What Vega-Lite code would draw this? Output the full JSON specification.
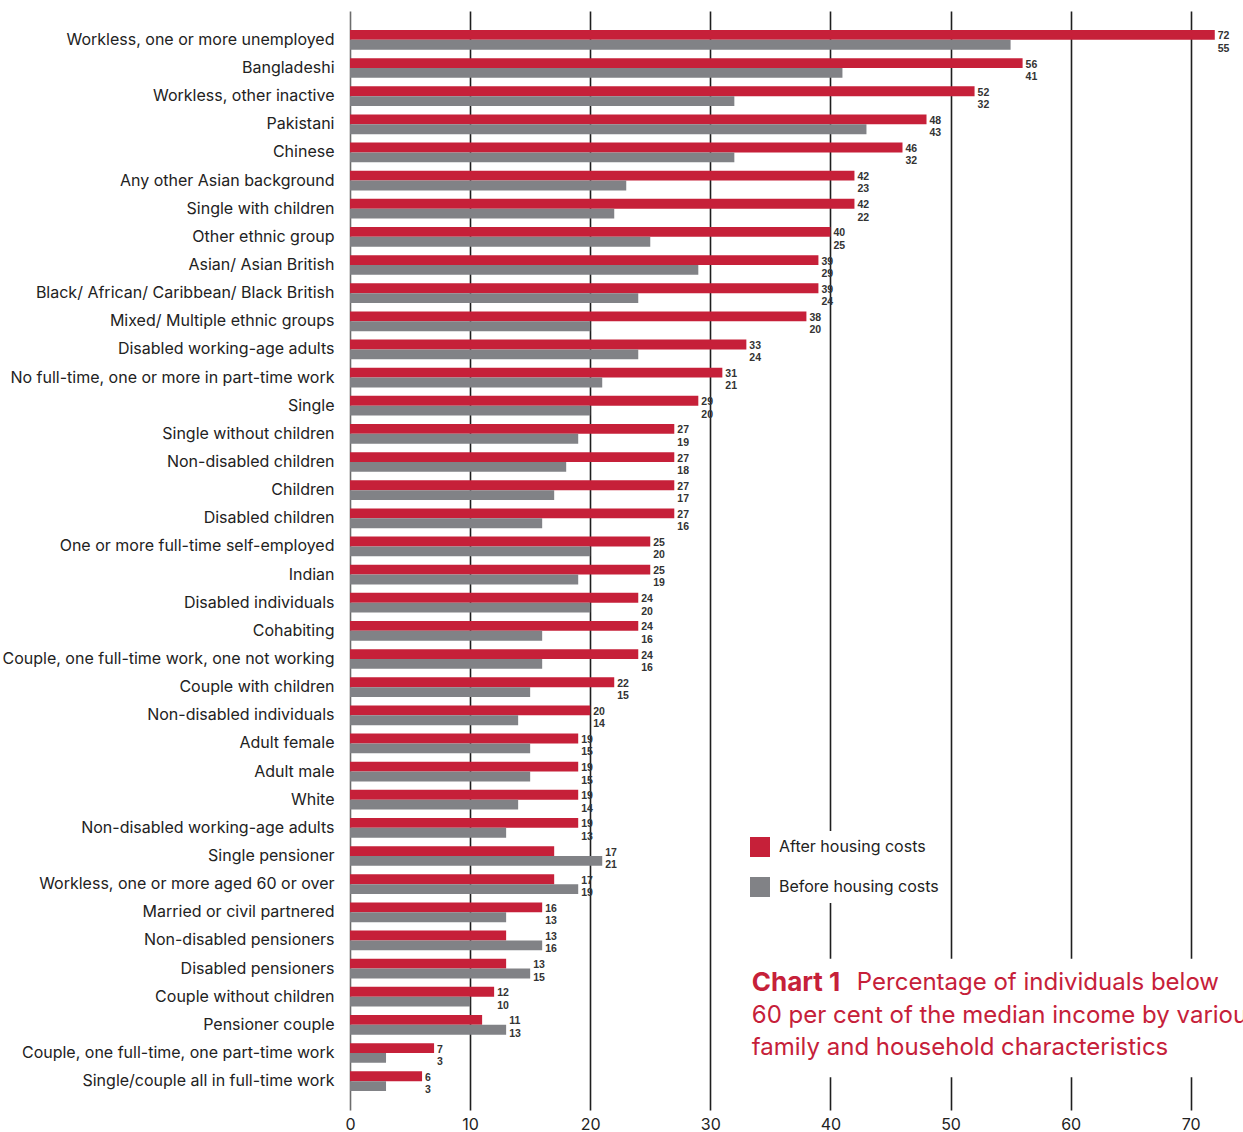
{
  "$schema": "https://vega.github.io/schema/vega-lite/v6.json",
  "width": 893,
  "height": 1099,
  "autosize": {"type": "none"},
  "padding": {"left": 350, "top": 11, "right": 0, "bottom": 22},
  "background": "white",
  "config": {"view": {"stroke": null}, "font": "Inter"},
  "data": {"values": [
    {"category": "Workless, one or more unemployed", "after": 72, "before": 55},
    {"category": "Bangladeshi", "after": 56, "before": 41},
    {"category": "Workless, other inactive", "after": 52, "before": 32},
    {"category": "Pakistani", "after": 48, "before": 43},
    {"category": "Chinese", "after": 46, "before": 32},
    {"category": "Any other Asian background", "after": 42, "before": 23},
    {"category": "Single with children", "after": 42, "before": 22},
    {"category": "Other ethnic group", "after": 40, "before": 25},
    {"category": "Asian/ Asian British", "after": 39, "before": 29},
    {"category": "Black/ African/ Caribbean/ Black British", "after": 39, "before": 24},
    {"category": "Mixed/ Multiple ethnic groups", "after": 38, "before": 20},
    {"category": "Disabled working-age adults", "after": 33, "before": 24},
    {"category": "No full-time, one or more in part-time work", "after": 31, "before": 21},
    {"category": "Single", "after": 29, "before": 20},
    {"category": "Single without children", "after": 27, "before": 19},
    {"category": "Non-disabled children", "after": 27, "before": 18},
    {"category": "Children", "after": 27, "before": 17},
    {"category": "Disabled children", "after": 27, "before": 16},
    {"category": "One or more full-time self-employed", "after": 25, "before": 20},
    {"category": "Indian", "after": 25, "before": 19},
    {"category": "Disabled individuals", "after": 24, "before": 20},
    {"category": "Cohabiting", "after": 24, "before": 16},
    {"category": "Couple, one full-time work, one not working", "after": 24, "before": 16},
    {"category": "Couple with children", "after": 22, "before": 15},
    {"category": "Non-disabled individuals", "after": 20, "before": 14},
    {"category": "Adult female", "after": 19, "before": 15},
    {"category": "Adult male", "after": 19, "before": 15},
    {"category": "White", "after": 19, "before": 14},
    {"category": "Non-disabled working-age adults", "after": 19, "before": 13},
    {"category": "Single pensioner", "after": 17, "before": 21},
    {"category": "Workless, one or more aged 60 or over", "after": 17, "before": 19},
    {"category": "Married or civil partnered", "after": 16, "before": 13},
    {"category": "Non-disabled pensioners", "after": 13, "before": 16},
    {"category": "Disabled pensioners", "after": 13, "before": 15},
    {"category": "Couple without children", "after": 12, "before": 10},
    {"category": "Pensioner couple", "after": 11, "before": 13},
    {"category": "Couple, one full-time, one part-time work", "after": 7, "before": 3},
    {"category": "Single/couple all in full-time work", "after": 6, "before": 3}
  ]},
  "transform": [
    {"fold": ["after", "before"], "as": ["series", "pct"]},
    {"joinaggregate": [{"op": "max", "field": "pct", "as": "maxv"}], "groupby": ["category"]}
  ],
  "encoding": {
    "y": {
      "field": "category", "type": "nominal", "sort": null,
      "scale": {"paddingInner": 0.3, "paddingOuter": 0.675},
      "axis": {"title": null, "domain": false, "ticks": false, "grid": false,
               "labelFontSize": 16, "labelColor": "#222", "labelPadding": 16, "labelLimit": 400}
    },
    "yOffset": {"field": "series", "type": "nominal", "scale": {"paddingInner": 0, "paddingOuter": 0}}
  },
  "layer": [
    {
      "mark": {"type": "bar"},
      "encoding": {
        "x": {
          "field": "pct", "type": "quantitative",
          "scale": {"domain": [0, 74.35], "nice": false, "zero": true},
          "axis": {"title": null, "values": [0, 10, 20, 30, 40, 50, 60, 70], "domain": false, "ticks": false,
                   "grid": true, "gridColor": {"condition": {"test": "datum.value === 0", "value": "#6d6d6d"}, "value": "#1f1f1f"},
                   "gridWidth": 1.6, "gridOpacity": 1,
                   "labelFontSize": 16, "labelColor": "#222", "labelPadding": 6, "labelFlush": false}
        },
        "color": {
          "field": "series", "type": "nominal",
          "scale": {"domain": ["after", "before"], "range": ["#c62039", "#818286"]},
          "legend": {
            "title": null, "orient": "none", "legendX": 394, "legendY": 820,
            "fillColor": "white", "padding": 6,
            "symbolType": "square", "symbolSize": 400, "symbolStrokeWidth": 0, "symbolOpacity": 1,
            "labelFontSize": 16, "labelColor": "#222", "labelOffset": 9, "rowPadding": 20,
            "labelExpr": "datum.value === 'after' ? 'After housing costs' : 'Before housing costs'"
          }
        }
      }
    },
    {
      "transform": [{"filter": "datum.series === 'after'"}],
      "mark": {"type": "text", "align": "left", "baseline": "middle", "dx": 3, "dy": 1.5, "fontSize": 10.5, "fontWeight": "bold", "font": "Liberation Sans", "color": "#333"},
      "encoding": {
        "x": {"field": "maxv", "type": "quantitative"},
        "text": {"field": "pct", "type": "quantitative"}
      }
    },
    {
      "transform": [{"filter": "datum.series === 'before'"}],
      "mark": {"type": "text", "align": "left", "baseline": "middle", "dx": 3, "dy": 4, "fontSize": 10.5, "fontWeight": "bold", "font": "Liberation Sans", "color": "#333"},
      "encoding": {
        "x": {"field": "maxv", "type": "quantitative"},
        "text": {"field": "pct", "type": "quantitative"}
      }
    },
    {
      "data": {"values": [{"box": "title"}]},
      "mark": {"type": "rect", "color": "white"},
      "encoding": {
        "x": {"datum": 33, "type": "quantitative"},
        "x2": {"datum": 74.35},
        "y": {"datum": "Disabled pensioners", "type": "nominal", "bandPosition": -0.12},
        "y2": {"datum": "Single/couple all in full-time work", "bandPosition": 0.3},
        "yOffset": {"value": 0}
      }
    },
    {
      "data": {"values": [{"t": "Chart 1"}]},
      "mark": {"type": "text", "align": "left", "baseline": "middle", "dy": 24, "fontSize": 26, "fontWeight": "bold", "color": "#c62039"},
      "encoding": {
        "x": {"datum": 33.45, "type": "quantitative"},
        "y": {"datum": "Disabled pensioners", "type": "nominal"},
        "yOffset": {"value": 0},
        "text": {"field": "t"}
      }
    },
    {
      "data": {"values": [{"t": "Percentage of individuals below"}]},
      "mark": {"type": "text", "align": "left", "baseline": "middle", "dy": 24, "fontSize": 24, "color": "#c62039"},
      "encoding": {
        "x": {"datum": 42.2, "type": "quantitative"},
        "y": {"datum": "Disabled pensioners", "type": "nominal"},
        "yOffset": {"value": 0},
        "text": {"field": "t"}
      }
    },
    {
      "data": {"values": [{"t": ["60 per cent of the median income by various", "family and household characteristics"]}]},
      "mark": {"type": "text", "align": "left", "baseline": "middle", "dy": 1, "fontSize": 24, "lineHeight": 32, "color": "#c62039"},
      "encoding": {
        "x": {"datum": 33.45, "type": "quantitative"},
        "y": {"datum": "Pensioner couple", "type": "nominal"},
        "yOffset": {"value": 0},
        "text": {"field": "t"}
      }
    }
  ]
}
